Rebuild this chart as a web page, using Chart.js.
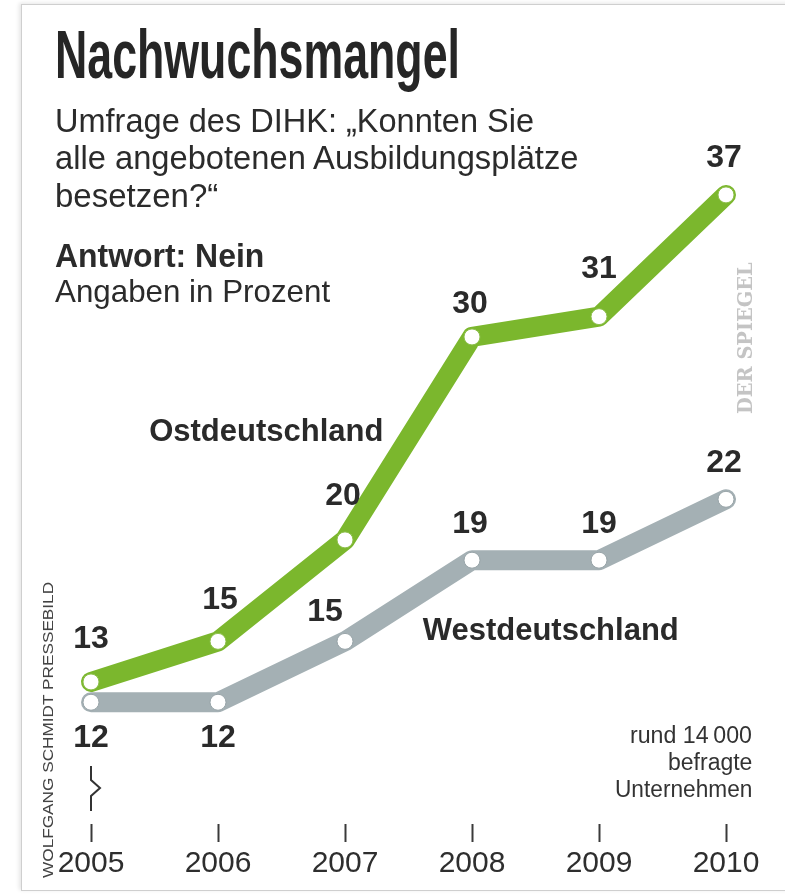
<!DOCTYPE html>
<html lang="de">
<head>
<meta charset="utf-8">
<title>Nachwuchsmangel</title>
<script src="https://cdn.jsdelivr.net/npm/chart.js@4.4.1/dist/chart.umd.min.js"></script>
<style>
    html, body { margin: 0; padding: 0; background: #fff; }
    #wrap { position: relative; width: 785px; height: 894px; overflow: hidden;
            font-family: "Liberation Sans", Arial, sans-serif; color: #2b2b2b; }
    #frame { position: absolute; left: 21px; top: 4px; right: -10px; bottom: 3px;
             border: 1px solid #cfcfcf; box-shadow: -2px -1px 4px rgba(0,0,0,0.10); }
    #chart { position: absolute; left: 0; top: 0; }
    .txt { position: absolute; white-space: nowrap; line-height: 1; transform-origin: 0 0; }
</style>
</head>
<body>
<div id="wrap">
    <div id="frame"></div>
    <canvas id="chart" width="785" height="894"></canvas>
</div>
<script>
// Daten: Umfrage des DIHK, Antwort "Nein", in Prozent
var years = ['2005', '2006', '2007', '2008', '2009', '2010'];
var ostValues = [13, 15, 20, 30, 31, 37];
var westValues = [12, 12, 15, 19, 19, 22];
var seriesNames = ['Ostdeutschland', 'Westdeutschland'];

var titleText = 'Nachwuchsmangel';
var subtitleLines = ['Umfrage des DIHK: \u201EKonnten Sie', 'alle angebotenen Ausbildungspl\u00E4tze', 'besetzen?\u201C'];
var answerText = 'Antwort: Nein';
var unitText = 'Angaben in Prozent';
var noteLines = ['rund 14\u2009000', 'befragte', 'Unternehmen'];

var FONT = '"Liberation Sans", Arial, sans-serif';
var GREEN = '#7bb72d';
var GREY = '#a4b0b4';

// Texte im Kopf (HTML), auf Zielbreite gestaucht
var wrap = document.getElementById('wrap');
function addText(text, opt) {
    var el = document.createElement('div');
    el.className = 'txt';
    el.textContent = text;
    el.style.fontSize = opt.size + 'px';
    el.style.fontWeight = opt.bold ? 'bold' : 'normal';
    el.style.fontFamily = opt.family || FONT;
    el.style.color = opt.color || '#2b2b2b';
    wrap.appendChild(el);
    var w = el.offsetWidth;
    var s = opt.width ? opt.width / w : 1;
    if (opt.rotate) {
        // liest von unten nach oben
        var h = el.offsetHeight;
        el.style.left = (opt.cx - h / 2) + 'px';
        el.style.top = opt.bottom + 'px';
        el.style.transform = 'rotate(-90deg) scaleX(' + s + ')';
    } else {
        var left = opt.align === 'right' ? opt.x - w * s : opt.x;
        el.style.left = left + 'px';
        el.style.top = (opt.baseline - 0.8465 * opt.size) + 'px';
        el.style.transform = 'scaleX(' + s + ')';
    }
    return el;
}

addText(titleText, { x: 55, baseline: 78, size: 68, bold: true, width: 405, color: '#262626' });
addText(subtitleLines[0], { x: 55, baseline: 132, size: 33, width: 479 });
addText(subtitleLines[1], { x: 55, baseline: 169, size: 33, width: 523 });
addText(subtitleLines[2], { x: 55, baseline: 207, size: 33, width: 163 });
addText(answerText, { x: 55, baseline: 267, size: 33, bold: true, width: 209 });
addText(unitText, { x: 55, baseline: 302, size: 32, width: 275 });
addText(noteLines[0], { x: 752, baseline: 743, size: 23, width: 122, align: 'right', color: '#333' });
addText(noteLines[1], { x: 752, baseline: 770, size: 23, width: 84, align: 'right', color: '#333' });
addText(noteLines[2], { x: 752, baseline: 797, size: 23, width: 137, align: 'right', color: '#333' });
addText('DER SPIEGEL', { rotate: true, cx: 745, bottom: 414, size: 20, bold: true,
    family: '"DejaVu Serif", serif', width: 152, color: '#c4c4c4' });
addText('WOLFGANG SCHMIDT PRESSEBILD', { rotate: true, cx: 47, bottom: 878, size: 15,
    width: 296, color: '#444' });

// Lage der Beschriftungen relativ zum Punkt (dx, dy)
var ostLabelShift = [[0, -43], [2, -41], [-2, -44], [-2, -33], [0, -47], [-2, -37]];
var westLabelShift = [[0, 36], [0, 36], [-20, -29], [-2, -36], [0, -36], [-2, -36]];
// Lage der Reihennamen in Datenkoordinaten (Index, Wert)
var nameAnchors = [[1.38, 25.3], [3.62, 15.5]];

var valueLabels = {
    id: 'valueLabels',
    afterDatasetsDraw: function (chart) {
        var ctx = chart.ctx;
        var xs = chart.scales.x, ys = chart.scales.y;
        ctx.save();
        ctx.fillStyle = '#2a2a2a';
        ctx.textAlign = 'center';
        ctx.textBaseline = 'middle';
        ctx.font = 'bold 32px ' + FONT;
        [ostLabelShift, westLabelShift].forEach(function (shift, di) {
            var meta = chart.getDatasetMeta(di);
            var vals = chart.data.datasets[di].data;
            meta.data.forEach(function (pt, i) {
                ctx.fillText(String(vals[i]), pt.x + shift[i][0], pt.y + shift[i][1]);
            });
        });
        ctx.font = 'bold 31px ' + FONT;
        seriesNames.forEach(function (name, i) {
            var a = nameAnchors[i];
            ctx.fillText(name, xs.getPixelForValue(a[0]), ys.getPixelForValue(a[1]));
        });
        // Achsenbruch unter 2005
        var x = xs.getPixelForValue(0);
        var b = chart.chartArea.bottom;
        ctx.strokeStyle = '#333';
        ctx.lineWidth = 2;
        ctx.beginPath();
        ctx.moveTo(x, b - 58);
        ctx.lineTo(x, b - 44);
        ctx.lineTo(x + 9, b - 36);
        ctx.lineTo(x, b - 28);
        ctx.lineTo(x, b - 13);
        ctx.stroke();
        ctx.restore();
    }
};

var canvas = document.getElementById('chart');
var chart = new Chart(canvas, {
    type: 'line',
    data: {
        labels: years,
        datasets: [{
            label: seriesNames[0],
            data: ostValues,
            borderColor: GREEN,
            borderWidth: 20,
            borderJoinStyle: 'round',
            borderCapStyle: 'round',
            tension: 0,
            pointRadius: 8,
            pointBackgroundColor: '#fff',
            pointBorderColor: '#8cbf4a',
            pointBorderWidth: 1,
            clip: false
        }, {
            label: seriesNames[1],
            data: westValues,
            borderColor: GREY,
            borderWidth: 20,
            borderJoinStyle: 'round',
            borderCapStyle: 'round',
            tension: 0,
            pointRadius: 8,
            pointBackgroundColor: '#fff',
            pointBorderColor: '#98a4a8',
            pointBorderWidth: 1,
            clip: false
        }]
    },
    options: {
        responsive: false,
        animation: false,
        layout: { padding: { left: 91, right: 59, top: 134, bottom: 8 } },
        plugins: {
            legend: { display: false },
            tooltip: { enabled: false }
        },
        scales: {
            x: {
                offset: false,
                border: { display: false },
                grid: {
                    display: true,
                    drawOnChartArea: false,
                    drawTicks: true,
                    tickLength: 18,
                    tickWidth: 2,
                    tickColor: '#3a3a3a'
                },
                ticks: {
                    font: { family: FONT, size: 30 },
                    color: '#2e2e2e',
                    padding: 4,
                    maxRotation: 0,
                    autoSkip: false
                }
            },
            y: {
                display: false,
                min: 6,
                max: 40
            }
        }
    },
    plugins: [valueLabels]
});
</script>
</body>
</html>
